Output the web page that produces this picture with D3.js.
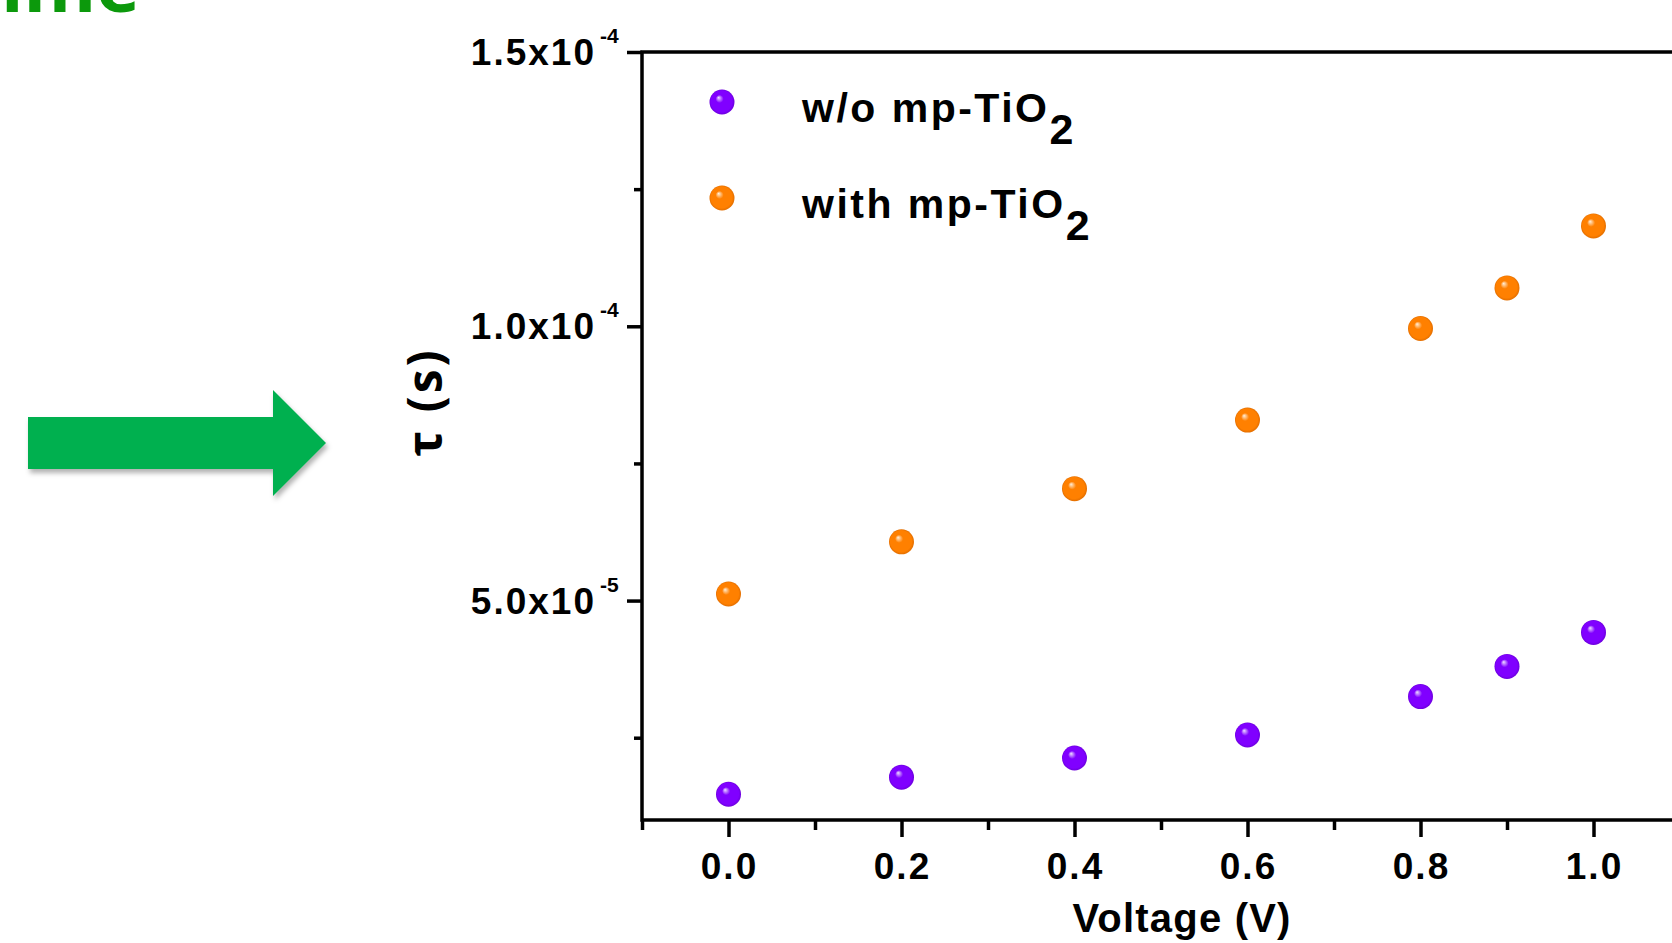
<!DOCTYPE html>
<html>
<head>
<meta charset="utf-8">
<script src="https://cdn.jsdelivr.net/npm/d3@7"></script>
<style>
body { margin: 0; background: #fff; }
</style>
</head>
<body>
<div id="chart"></div>
<script>
// values
var voltage = [0.0, 0.2, 0.4, 0.6, 0.8, 0.9, 1.0];
var tauWithout = [1.47e-5, 1.78e-5, 2.13e-5, 2.55e-5, 3.25e-5, 3.80e-5, 4.42e-5];
var tauWith = [5.12e-5, 6.07e-5, 7.04e-5, 8.29e-5, 9.96e-5, 1.07e-4, 1.183e-4];
var seriesLabels = ["w/o mp-TiO", "with mp-TiO"];
var seriesSub = ["2", "2"];
var xTicks = [0.0, 0.2, 0.4, 0.6, 0.8, 1.0];
var xMinorTicks = [-0.1, 0.1, 0.3, 0.5, 0.7, 0.9, 1.1];
var xTickLabels = ["0.0", "0.2", "0.4", "0.6", "0.8", "1.0"];
var yTicks = [5e-5, 1e-4, 1.5e-4];
var yMinorTicks = [2.5e-5, 7.5e-5, 1.25e-4];
var yTickMantissa = ["5.0x10", "1.0x10", "1.5x10"];
var yTickExponent = ["-5", "-4", "-4"];

function LifetimeChart(container){
    const width = 1672;
    const height = 943;
    const plot = ({left: 642, right: 1680, top: 52, bottom: 820});
    const colors = [
        {base: "#8000ff", edge: "#6c00dc", light: "#efe0ff"},
        {base: "#ff8000", edge: "#e26e00", light: "#fff0dc"}
    ];
    const axisFont = "'Liberation Sans', Arial, sans-serif";

    var svg = d3.select(container)
        .append("svg")
        .attr("width", width)
        .attr("height", height)
        .style("display", "block")
        .style("background", "#fff");

    var defs = svg.append("defs");
    colors.forEach(function(c, i){
        var g = defs.append("radialGradient")
            .attr("id", "ball" + i)
            .attr("cx", "0.5").attr("cy", "0.5").attr("r", "0.5")
            .attr("fx", "0.36").attr("fy", "0.32");
        g.append("stop").attr("offset", "0%").attr("stop-color", c.light);
        g.append("stop").attr("offset", "32%").attr("stop-color", c.base);
        g.append("stop").attr("offset", "85%").attr("stop-color", c.base);
        g.append("stop").attr("offset", "100%").attr("stop-color", c.edge);
    });
    defs.append("filter")
        .attr("id", "shadow")
        .attr("x", "-10%").attr("y", "-20%").attr("width", "130%").attr("height", "160%")
        .append("feDropShadow")
        .attr("dx", 2).attr("dy", 4).attr("stdDeviation", 2.5)
        .attr("flood-color", "#000").attr("flood-opacity", 0.3);

    // green word cut by the top edge
    svg.append("text")
        .attr("x", 140)
        .attr("y", 12)
        .attr("text-anchor", "end")
        .style("font-family", "'Open Sans', 'Noto Sans', sans-serif")
        .style("font-weight", "bold")
        .style("font-size", "74px")
        .attr("fill", "#0c990c")
        .text("Lifetime");

    // green block arrow
    var ax0 = 28, ax1 = 273, tip = 326, cy = 443, body = 26, head = 53;
    var arrowPts = [[ax0, cy - body], [ax1, cy - body], [ax1, cy - head], [tip, cy],
                    [ax1, cy + head], [ax1, cy + body], [ax0, cy + body]];
    svg.append("path")
        .attr("d", d3.line()(arrowPts) + "Z")
        .attr("fill", "#00b050")
        .attr("filter", "url(#shadow)");

    var x = d3.scaleLinear()
        .domain([-0.1, 1.1])
        .range([plot.left, plot.right]);
    var y = d3.scaleLinear()
        .domain([1e-5, 1.5e-4])
        .range([plot.bottom, plot.top]);

    function styleAxis(g){
        g.select(".domain").remove();
        g.selectAll(".tick line").attr("stroke", "#000").attr("stroke-width", 3.5);
    }

    svg.append("g")
        .attr("transform", "translate(0," + plot.bottom + ")")
        .call(d3.axisBottom(x).tickValues(xTicks).tickSize(17).tickSizeOuter(0).tickFormat(""))
        .call(styleAxis);
    svg.append("g")
        .attr("transform", "translate(0," + plot.bottom + ")")
        .call(d3.axisBottom(x).tickValues(xMinorTicks).tickSize(10).tickSizeOuter(0).tickFormat(""))
        .call(styleAxis);
    svg.append("g")
        .attr("transform", "translate(" + plot.left + ",0)")
        .call(d3.axisLeft(y).tickValues(yTicks).tickSize(15).tickSizeOuter(0).tickFormat(""))
        .call(styleAxis);
    svg.append("g")
        .attr("transform", "translate(" + plot.left + ",0)")
        .call(d3.axisLeft(y).tickValues(yMinorTicks).tickSize(8).tickSizeOuter(0).tickFormat(""))
        .call(styleAxis);

    // frame
    svg.append("rect")
        .attr("x", plot.left)
        .attr("y", plot.top)
        .attr("width", plot.right - plot.left)
        .attr("height", plot.bottom - plot.top)
        .attr("fill", "none")
        .attr("stroke", "#000")
        .attr("stroke-width", 3.5);

    // x tick labels
    svg.selectAll("text.xlab")
        .data(xTicks)
        .enter()
        .append("text")
        .attr("class", "xlab")
        .attr("x", d => x(d) + 1)
        .attr("y", plot.bottom + 59)
        .attr("text-anchor", "middle")
        .style("font-family", axisFont)
        .style("font-weight", "bold")
        .style("font-size", "37px")
        .style("letter-spacing", "2px")
        .attr("fill", "#000")
        .text((d, i) => xTickLabels[i]);

    // y tick labels with superscript exponent
    var ylab = svg.selectAll("g.ylab")
        .data(yTicks)
        .enter()
        .append("g")
        .attr("class", "ylab")
        .attr("transform", d => "translate(0," + y(d) + ")");
    ylab.append("text")
        .attr("x", 596)
        .attr("y", 13)
        .attr("text-anchor", "end")
        .style("font-family", axisFont)
        .style("font-weight", "bold")
        .style("font-size", "37px")
        .style("letter-spacing", "2px")
        .attr("fill", "#000")
        .text((d, i) => yTickMantissa[i]);
    ylab.append("text")
        .attr("x", 600)
        .attr("y", -9)
        .style("font-family", axisFont)
        .style("font-weight", "bold")
        .style("font-size", "21px")
        .attr("fill", "#000")
        .text((d, i) => yTickExponent[i]);

    // axis titles
    svg.append("text")
        .attr("x", 1182)
        .attr("y", 932)
        .attr("text-anchor", "middle")
        .style("font-family", axisFont)
        .style("font-weight", "bold")
        .style("font-size", "40px")
        .style("letter-spacing", "1.2px")
        .attr("fill", "#000")
        .text("Voltage (V)");
    svg.append("text")
        .attr("transform", "translate(442,402) rotate(-90)")
        .attr("text-anchor", "middle")
        .style("font-family", "'Open Sans', 'Noto Sans', sans-serif")
        .style("font-weight", "bold")
        .style("font-size", "48px")
        .style("letter-spacing", "3px")
        .attr("fill", "#000")
        .text("τ (s)");

    // points
    var series = [tauWithout, tauWith];
    series.forEach(function(vals, s){
        svg.append("g")
            .selectAll("circle")
            .data(vals)
            .enter()
            .append("circle")
            .attr("cx", (d, i) => x(voltage[i]))
            .attr("cy", d => y(d))
            .attr("r", 12.5)
            .attr("fill", "url(#ball" + s + ")");
    });

    // legend
    var leg = svg.selectAll("g.legend")
        .data(seriesLabels)
        .enter()
        .append("g")
        .attr("class", "legend")
        .attr("transform", (d, i) => "translate(722," + (102 + i * 96) + ")");
    leg.append("circle")
        .attr("r", 12.5)
        .attr("fill", (d, i) => "url(#ball" + i + ")");
    var lt = leg.append("text")
        .attr("x", 80)
        .attr("y", 20)
        .style("font-family", axisFont)
        .style("font-weight", "bold")
        .style("font-size", "41px")
        .style("letter-spacing", "2.5px")
        .attr("fill", "#000");
    lt.append("tspan").text(d => d);
    lt.append("tspan")
        .attr("dy", 22)
        .style("font-size", "43px")
        .text((d, i) => seriesSub[i]);
}

LifetimeChart("#chart");
</script>
</body>
</html>
